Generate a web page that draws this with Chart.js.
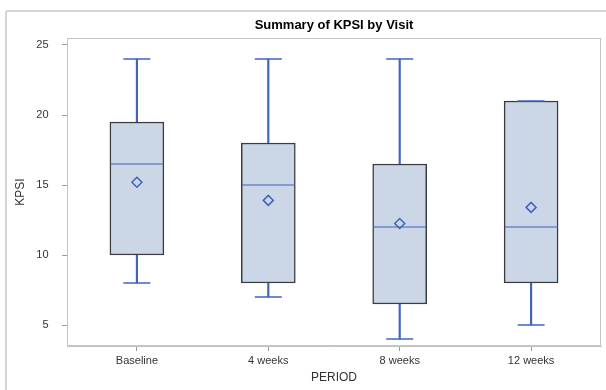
<!DOCTYPE html>
<html>
<head>
<meta charset="utf-8">
<script src="https://cdn.jsdelivr.net/npm/chart.js@4"></script>
<style>
  html, body { margin: 0; padding: 0; background: #fff; }
  #wrap { position: relative; width: 606px; height: 390px; overflow: hidden; }
  #frame { position: absolute; left: 5px; top: 10px; width: 700px; height: 500px;
           border-left: 2px solid #d6d6d6; border-top: 2px solid #d6d6d6; border-top-left-radius: 3px; }
  canvas { position: absolute; left: 0; top: 0; }
</style>
</head>
<body>
<div id="wrap">
  <div id="frame"></div>
  <canvas id="c" width="606" height="390"></canvas>
</div>
<script>
// ---- data ----
const categories = ['Baseline', '4 weeks', '8 weeks', '12 weeks'];
const minVals    = [8, 7, 4, 5];
const q1Vals     = [10, 8, 6.5, 8];
const medianVals = [16.5, 15, 12, 12];
const q3Vals     = [19.5, 18, 16.5, 21];
const maxVals    = [24, 24, 24, 21];
const meanVals   = [15.2, 13.9, 12.25, 13.4];
const yTicks     = [5, 10, 15, 20, 25];

const BLUE = '#3f63bf';
const FONT = "'Liberation Sans', Arial, sans-serif";

const idx = categories.map((_, i) => i);
const pts = arr => arr.map((v, i) => ({ x: i, y: v }));

const plotBorder = {
  id: 'plotBorder',
  beforeDatasetsDraw(chart) {
    const a = chart.chartArea, ctx = chart.ctx;
    ctx.save();
    ctx.strokeStyle = '#c4c4c4';
    ctx.lineWidth = 1;
    ctx.strokeRect(Math.round(a.left) + 0.5, Math.round(a.top) + 0.5,
                   Math.round(a.right - a.left) - 1, Math.round(a.bottom - a.top) - 1);
    ctx.restore();
  }
};

new Chart(document.getElementById('c'), {
  data: {
    datasets: [
      { type: 'bar', label: 'box', data: idx.map(i => ({ x: i, y: [q1Vals[i], q3Vals[i]] })),
        backgroundColor: '#cbd6e6', borderColor: '#3c3c3c', borderWidth: 1.5,
        borderSkipped: false, barThickness: 54, grouped: false, order: 2 },
      { type: 'bar', label: 'upperWhisker', data: idx.map(i => ({ x: i, y: [q3Vals[i], maxVals[i]] })),
        backgroundColor: BLUE, borderWidth: 0, barThickness: 1.5, grouped: false, order: 3 },
      { type: 'bar', label: 'lowerWhisker', data: idx.map(i => ({ x: i, y: [minVals[i], q1Vals[i]] })),
        backgroundColor: BLUE, borderWidth: 0, barThickness: 1.5, grouped: false, order: 3 },
      { type: 'scatter', label: 'maxCap', data: pts(maxVals), pointStyle: 'line',
        pointRadius: 13.5, borderColor: BLUE, pointBorderWidth: 1.5, order: 0 },
      { type: 'scatter', label: 'minCap', data: pts(minVals), pointStyle: 'line',
        pointRadius: 13.5, borderColor: BLUE, pointBorderWidth: 1.5, order: 0 },
      { type: 'scatter', label: 'median', data: pts(medianVals), pointStyle: 'line',
        pointRadius: 26.5, borderColor: BLUE, pointBorderWidth: 1.2, order: 0 },
      { type: 'scatter', label: 'mean', data: pts(meanVals), pointStyle: 'rectRot',
        pointRadius: 5, borderColor: BLUE, backgroundColor: 'rgba(0,0,0,0)', pointBorderWidth: 1.5, order: 0 }
    ]
  },
  options: {
    responsive: false,
    animation: false,
    events: [],
    layout: { autoPadding: false, padding: { left: 0, right: 5, top: 0, bottom: 0 } },
    plugins: {
      legend: { display: false },
      tooltip: { enabled: false },
      title: {
        display: true, text: 'Summary of KPSI by Visit', fullSize: false,
        color: '#000', font: { family: FONT, size: 13, weight: 'bold' },
        padding: { top: 18, bottom: 4.4 }
      }
    },
    scales: {
      x: {
        type: 'linear', min: -0.532, max: 3.532, offset: false,
        afterBuildTicks(s) { s.ticks = idx.map(v => ({ value: v })); },
        afterFit(s) { s.height = 44; s.paddingLeft = 0; s.paddingRight = 0; },
        ticks: { callback: v => categories[v], color: '#333', padding: 3,
                 font: { family: FONT, size: 11 }, maxRotation: 0, autoSkip: false },
        grid: { display: true, offset: false, drawOnChartArea: false, drawTicks: true, tickLength: 5, color: '#9a9a9a' },
        border: { display: true, color: '#c4c4c4' },
        title: { display: true, text: 'PERIOD', color: '#333', font: { family: FONT, size: 12 },
                 padding: { top: 0, bottom: 5.3 } }
      },
      y: {
        type: 'linear', min: 3.5, max: 25.5,
        afterBuildTicks(s) { s.ticks = yTicks.map(v => ({ value: v })); },
        afterFit(s) { s.width = 67; s.paddingTop = 0; s.paddingBottom = 0; },
        ticks: { color: '#333', padding: 13.5, font: { family: FONT, size: 11 } },
        grid: { display: true, drawOnChartArea: false, drawTicks: true, tickLength: 5, color: '#9a9a9a' },
        border: { display: true, color: '#c4c4c4' },
        title: { display: true, text: 'KPSI', color: '#333', font: { family: FONT, size: 12 },
                 padding: { top: 13.8, bottom: 0 } }
      }
    }
  },
  plugins: [plotBorder]
});
</script>
</body>
</html>
